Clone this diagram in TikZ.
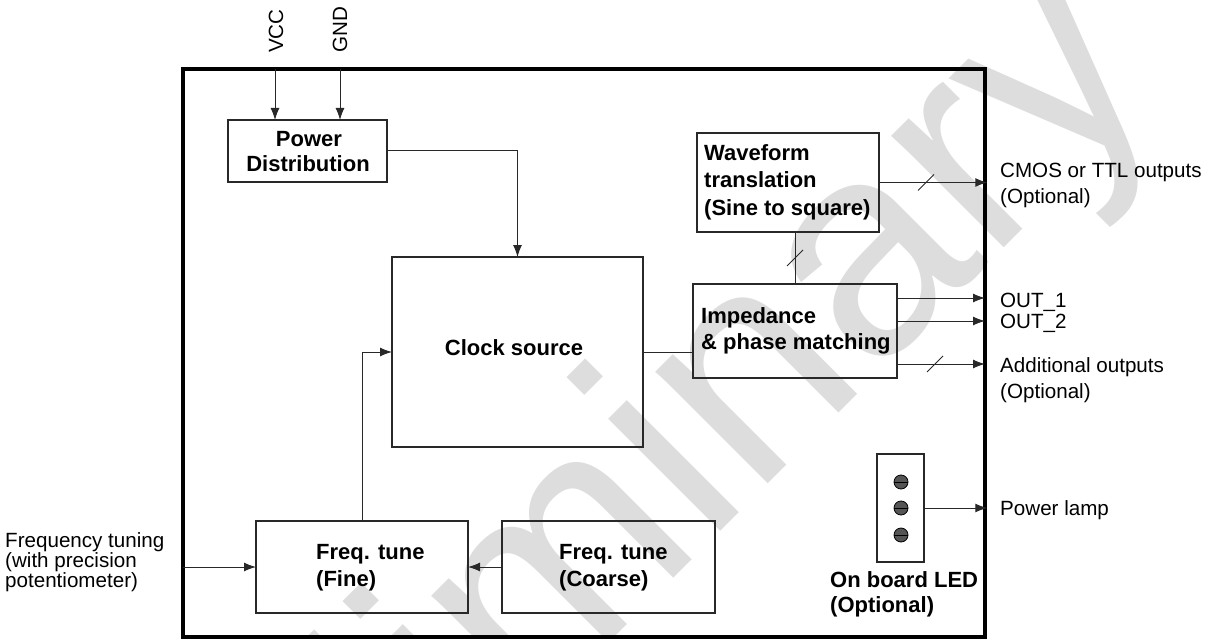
\documentclass[tikz,border=0pt]{standalone}
\usepackage{fontspec}
\setmainfont{Liberation Sans}
\usetikzlibrary{arrows.meta}
\definecolor{wm}{RGB}{221,221,221}
\definecolor{ln}{RGB}{40,40,40}
\definecolor{ledfill}{RGB}{85,85,85}
\begin{document}
\begin{tikzpicture}[x=1pt,y=-1pt,
  box/.style={draw=ln, line width=1.1pt, inner sep=0, outer sep=0, rectangle},
  conn/.style={draw=ln, line width=1pt},
  arr/.style={conn, -{Latex[length=12pt,width=9pt]}},
  btxt/.style={font=\fontsize{22}{26}\selectfont\bfseries, inner sep=0},
  rtxt/.style={font=\fontsize{20.6}{24}\selectfont, inner sep=0},
  slashmark/.style={draw=ln, line width=1pt},
  wmark/.style={font=\fontsize{300}{300}\selectfont, text=wm, inner sep=0}]
\useasboundingbox (0,0) rectangle (1212,639);
\begin{scope}
\clip (0,0) rectangle (1212,639);
\node[wmark, anchor=base, rotate=45] (watermark) at (636,616) {Preliminary};
\end{scope}
% outer frame
\node[draw=black, line width=4.5pt, minimum width=802pt, minimum height=568pt, inner sep=0] (outer) at (584,353) {};
% boxes
\node[box, minimum width=159pt, minimum height=62pt] (power) at (307.5,151) {};
\node[box, minimum width=251pt, minimum height=190pt] (clock) at (517.5,352) {};
\node[box, minimum width=182pt, minimum height=99pt] (wave) at (788,182.5) {};
\node[box, minimum width=204pt, minimum height=94pt] (imp) at (795,331) {};
\node[box, minimum width=212pt, minimum height=92pt] (fine) at (362,567) {};
\node[box, minimum width=213pt, minimum height=92pt] (coarse) at (608.5,567) {};
\node[box, minimum width=47pt, minimum height=108pt] (led) at (900.5,508) {};
% box texts
\node[btxt, anchor=base] (powerA) at (309,147) {Power};
\node[btxt, anchor=base] (powerB) at (308,172) {Distribution};
\node[btxt, anchor=base] (clocktxt) at (514,355) {Clock source};
\node[btxt, anchor=base west] (waveA) at (704,161) {Waveform};
\node[btxt, anchor=base west] (waveB) at (704,188) {translation};
\node[btxt, anchor=base west] (waveC) at (704,215) {(Sine to square)};
\node[btxt, anchor=base west] (impA) at (701,323) {Impedance};
\node[btxt, anchor=base west] (impB) at (701,349) {\& phase matching};
\node[btxt, anchor=base west] (fineA) at (316,559) {Freq. tune};
\node[btxt, anchor=base west] (fineB) at (316,586) {(Fine)};
\node[btxt, anchor=base west] (coarseA) at (559,559) {Freq. tune};
\node[btxt, anchor=base west] (coarseB) at (559,586) {(Coarse)};
\node[btxt, anchor=base west] (ledA) at (830,587) {On board LED};
\node[btxt, anchor=base west] (ledB) at (830,612) {(Optional)};
% LED dots
\foreach \yy/\nm in {482/d1,508/d2,535/d3}{
  \node[circle, draw=black, fill=ledfill, line width=0.8pt, minimum size=14pt, inner sep=0] (\nm) at (901,\yy) {};
  \draw[black, line width=0.9pt] (\nm.west) -- (\nm.east);
}
% external labels
\node[rtxt, rotate=90, anchor=west] (vcc) at (276,53) {VCC};
\node[rtxt, rotate=90, anchor=west] (gnd) at (340,53) {GND};
\node[rtxt, anchor=base west] (cmosA) at (1000,178) {CMOS or TTL outputs};
\node[rtxt, anchor=base west] (cmosB) at (1000,204) {(Optional)};
\node[rtxt, anchor=base west] (out1) at (1000,307) {OUT\_1};
\node[rtxt, anchor=base west] (out2) at (1000,328) {OUT\_2};
\node[rtxt, anchor=base west] (addA) at (1000,372) {Additional outputs};
\node[rtxt, anchor=base west] (addB) at (1000,398) {(Optional)};
\node[rtxt, anchor=base west] (lamp) at (1000,515) {Power lamp};
\node[rtxt, anchor=base west] (freqA) at (5,547) {Frequency tuning};
\node[rtxt, anchor=base west] (freqB) at (5,567) {(with precision};
\node[rtxt, anchor=base west] (freqC) at (5,587) {potentiometer)};
% connector end points
\coordinate (vccp) at (275,69);
\coordinate (gndp) at (340,69);
\coordinate (o1) at (985,298);
\coordinate (o2) at (985,321);
\coordinate (o3) at (985,364);
\coordinate (fin) at (183,567);
% connectors
\draw[arr] (vccp) -- (vccp |- power.north);
\draw[arr] (gndp) -- (gndp |- power.north);
\draw[arr] (power.east) -| (clock.north);
\draw[arr] (fine.north) |- (clock.west);
\draw[conn] (clock.east) -- (clock.east -| imp.west);
\draw[conn] (imp.north) -- (imp.north |- wave.south);
\draw[arr] (wave.east) -- (wave.east -| outer.east);
\draw[arr] (o1 -| imp.east) -- (o1);
\draw[arr] (o2 -| imp.east) -- (o2);
\draw[arr] (o3 -| imp.east) -- (o3);
\draw[arr] (led.east) -- (led.east -| outer.east);
\draw[arr] (fin) -- (fine.west);
\draw[arr] (coarse.west) -- (fine.east);
% bus slashes
\draw[slashmark] (926,182.5) ++(-8,8) -- ++(16,-16);
\draw[slashmark] (795,258) ++(-8,8) -- ++(16,-16);
\draw[slashmark] (935,364) ++(-8,8) -- ++(16,-16);
\end{tikzpicture}
\end{document}
